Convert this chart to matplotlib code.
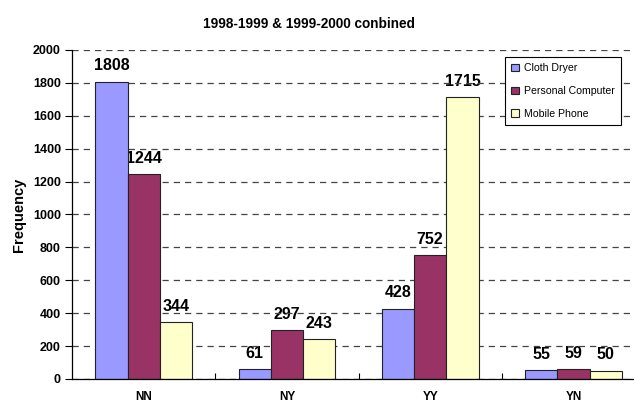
import numpy as np
import matplotlib as mpl
import matplotlib.pyplot as plt

mpl.rc('font', family=['Liberation Sans', 'DejaVu Sans'])

categories = ['NN', 'NY', 'YY', 'YN']
series_names = ['Cloth Dryer', 'Personal Computer', 'Mobile Phone']
cloth_dryer = [1808, 61, 428, 55]
personal_computer = [1244, 297, 752, 59]
mobile_phone = [344, 243, 1715, 50]

colors = ['#9999FF', '#993366', '#FFFFCC']
series = [cloth_dryer, personal_computer, mobile_phone]

fig = plt.figure(figsize=(6.34, 4.03), dpi=100)
# 오른쪽 끝은 그림 밖으로 약간 잘려 나감 (원본과 같게)
ax = fig.add_axes([0.1136, 0.0596, 0.904, 0.8164])

x = np.arange(len(categories))
w = 0.225
for i, (vals, name, c) in enumerate(zip(series, series_names, colors)):
    pos = x + (i - 1) * w
    ax.bar(pos, vals, width=w, color=c, edgecolor='#222222', linewidth=0.8,
           label=name, zorder=2)
    for px, v in zip(pos, vals):
        ax.annotate(str(v), (px, v), xytext=(0, 6), textcoords='offset points',
                    ha='center', va='bottom', fontsize=11.5, weight='bold',
                    zorder=0.3)

ax.set_xlim(-0.5, 3.5)
ax.set_ylim(0, 2000)
ax.set_yticks(range(0, 2001, 200))
ax.yaxis.grid(True, linestyle=(0, (5, 4)), color='#444444', linewidth=0.9)
ax.set_axisbelow(True)

ax.set_xticks(x)
ax.set_xticklabels(categories, fontsize=8.5, weight='bold')
ax.set_xticks([0.5, 1.5, 2.5], minor=True)
ax.tick_params(axis='x', which='major', length=0, pad=9)
ax.tick_params(axis='x', which='minor', direction='in', length=4, width=0.8)
ax.tick_params(axis='y', direction='out', length=5, width=0.8, labelsize=9, pad=3)
for lab in ax.get_yticklabels():
    lab.set_weight('bold')

for s in ['top', 'right']:
    ax.spines[s].set_visible(False)
ax.spines['left'].set_linewidth(0.9)
ax.spines['bottom'].set_linewidth(0.9)

ax.set_ylabel('Frequency', fontsize=10.5, weight='bold', labelpad=5)
fig.suptitle('1998-1999 & 1999-2000 conbined', fontsize=9.8, weight='bold',
             x=0.487, y=0.957)

leg = ax.legend(loc='upper right', bbox_to_anchor=(621 / 634, 1 - 57 / 403),
                bbox_transform=fig.transFigure, fontsize=7.6, frameon=True,
                fancybox=False, edgecolor='black', framealpha=1,
                handlelength=0.7, handleheight=0.7, handletextpad=0.5,
                labelspacing=1.2, borderpad=0.6, borderaxespad=0)
leg.get_frame().set_linewidth(0.8)
leg.set_zorder(5)

fig.savefig('out.png', dpi=100)
